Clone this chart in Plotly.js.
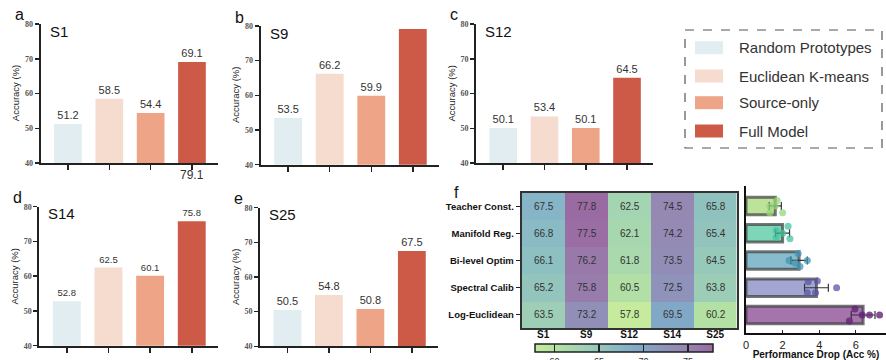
<!DOCTYPE html>
<html><head><meta charset="utf-8">
<script src="https://cdn.plot.ly/plotly-3.0.1.min.js"></script>
<style>html,body{margin:0;padding:0;background:#fff;}#chart{width:886px;height:360px;}</style>
</head><body><div id="chart"></div>
<script>
// ---------- data ----------
const methods = ['Random Prototypes','Euclidean K-means','Source-only','Full Model'];
const subjects = ['S1','S9','S12','S14','S25'];
const accS1  = [51.2, 58.5, 54.4, 69.1];
const accS9  = [53.5, 66.2, 59.9, 79.1];
const accS12 = [50.1, 53.4, 50.1, 64.5];
const accS14 = [52.8, 62.5, 60.1, 75.8];
const accS25 = [50.5, 54.8, 50.8, 67.5];
const yTicks = [40, 50, 60, 70, 80];

const components = ['Teacher Const.','Manifold Reg.','Bi-level Optim','Spectral Calib','Log-Euclidean'];
const ablation = [
  [67.5, 77.8, 62.5, 74.5, 65.8],
  [66.8, 77.5, 62.1, 74.2, 65.4],
  [66.1, 76.2, 61.8, 73.5, 64.5],
  [65.2, 75.8, 60.5, 72.5, 63.8],
  [63.5, 73.2, 57.8, 69.5, 60.2]
];
const cbTicks = [60, 65, 70, 75];

const dropMean = [1.6, 2.0, 2.9, 3.85, 6.4];
const dropErr  = [0.33, 0.38, 0.45, 0.65, 0.65];
const dropPoints = [
  [1.7, 1.3, 2.0, 1.3, 1.6],
  [2.3, 1.65, 2.0, 2.4, 1.65],
  [2.85, 2.35, 3.35, 2.95, 2.7],
  [3.4, 3.9, 4.95, 3.35, 3.8],
  [5.95, 6.35, 6.75, 7.3, 5.65]
];
const dropJitter = [
  [-0.2, 0.0, 0.25, 0.25, 0.0],
  [-0.25, -0.1, 0.0, 0.2, 0.15],
  [-0.25, 0.0, 0.0, 0.22, 0.1],
  [-0.22, -0.25, 0.0, 0.18, 0.18],
  [-0.22, 0.0, 0.0, 0.0, 0.22]
];
const dropTicks = [0, 2, 4, 6];

// ---------- styles ----------
const W = 886, H = 360;
const methodColors = ['#e2edf2', '#f6dccf', '#eea587', '#cd5a47'];
const barFill = ['#bde39a', '#7ed6b8', '#86bccb', '#a2a6d0', '#a574ad'];
const dotCol  = ['rgba(150,215,120,0.75)', 'rgba(70,195,160,0.75)', 'rgba(65,150,180,0.75)',
                 'rgba(90,85,165,0.75)', 'rgba(100,35,120,0.8)'];
const FONT = 'Liberation Sans, Arial, sans-serif';
const px = x => x / W;
const py = y => 1 - y / H;
const dX = (a, b) => [a / W, b / W];
const dY = (t, b) => [1 - b / H, 1 - t / H];

const panels = [
  {vals: accS1,  ax: 'x',  ay: 'y',  xd: [40.7, 218], yd: [24, 163],   letter: 'a', lab: subjects[0], fs: 11},
  {vals: accS9,  ax: 'x2', ay: 'y2', xd: [260.7, 439], yd: [26, 164.7], letter: 'b', lab: subjects[1], fs: 11},
  {vals: accS12, ax: 'x3', ay: 'y3', xd: [476, 653],  yd: [24, 163],   letter: 'c', lab: subjects[2], fs: 11},
  {vals: accS14, ax: 'x4', ay: 'y4', xd: [39.3, 218], yd: [206.7, 345.7], letter: 'd', lab: subjects[3], fs: 9.5},
  {vals: accS25, ax: 'x5', ay: 'y5', xd: [260, 438],  yd: [207.7, 346.3], letter: 'e', lab: subjects[4], fs: 11}
];

const data = [];
const layout = {
  width: W, height: H, margin: {l: 0, r: 0, t: 0, b: 0, autoexpand: false},
  paper_bgcolor: '#fff', plot_bgcolor: 'rgba(0,0,0,0)',
  showlegend: false, font: {family: FONT, color: '#222'},
  annotations: [], shapes: []
};

panels.forEach((p, i) => {
  const labels = p.vals.map(v => v.toFixed(1));
  if (i === 1) labels[3] = '';
  data.push({
    type: 'bar', x: [0, 1, 2, 3], y: p.vals, width: 0.67,
    marker: {color: methodColors, line: {width: 0}},
    text: labels, textposition: 'outside', constraintext: 'none', cliponaxis: false,
    textfont: {family: FONT, size: p.fs, color: '#333'},
    xaxis: p.ax, yaxis: p.ay, hoverinfo: 'y'
  });
  const sx = p.ax === 'x' ? 'xaxis' : 'xaxis' + p.ax.slice(1);
  const sy = p.ay === 'y' ? 'yaxis' : 'yaxis' + p.ay.slice(1);
  layout[sx] = {
    domain: dX(p.xd[0], p.xd[1]), range: [-0.66, 3.63], anchor: p.ay,
    tickvals: [0, 1, 2, 3], ticktext: ['', '', '', ''], ticks: 'outside', ticklen: 5, tickwidth: 1.5,
    tickcolor: '#222', showline: true, linecolor: '#222', linewidth: 2, showgrid: false, zeroline: false
  };
  layout[sy] = {
    domain: dY(p.yd[0], p.yd[1]), range: [40, 80], anchor: p.ax,
    tickvals: yTicks, ticks: 'outside', ticklen: 4, tickwidth: 1.5, tickcolor: '#222',
    showline: true, linecolor: '#222', linewidth: 2, showgrid: false, zeroline: false,
    tickfont: {family: 'Liberation Serif, serif', size: 8, color: '#555', weight: 'bold'}
  };
  layout.annotations.push({text: p.letter, xref: 'paper', yref: 'paper',
    x: px(p.xd[0] - 28), y: py(p.yd[0] - 9), xanchor: 'left', yanchor: 'middle', showarrow: false,
    font: {family: FONT, size: 16, color: '#111'}});
  layout.annotations.push({text: p.lab, xref: 'paper', yref: 'paper',
    x: px(p.xd[0] + 7), y: py(p.yd[0] + 7), xanchor: 'left', yanchor: 'middle', showarrow: false,
    font: {family: FONT, size: 15, color: '#111'}});
  layout.annotations.push({text: 'Accuracy (%)', xref: 'paper', yref: 'paper', textangle: -90,
    x: px(p.xd[0] - 25), y: py((p.yd[0] + p.yd[1]) / 2), xanchor: 'center', yanchor: 'middle', showarrow: false,
    font: {family: FONT, size: 9.5, color: '#222'}});
});

// stray label of S9 Full Model drawn below panel a
layout.annotations.push({text: accS9[3].toFixed(1), xref: 'x', yref: 'paper', x: 3, y: py(175),
  xanchor: 'center', yanchor: 'middle', showarrow: false, font: {family: FONT, size: 12, color: '#333'}});

// ---------- legend ----------
layout.shapes.push({type: 'rect', xref: 'paper', yref: 'paper', x0: px(685), x1: px(882), y0: py(30), y1: py(148),
  line: {color: '#555', width: 1.2, dash: 'dash'}, fillcolor: 'rgba(0,0,0,0)'});
const legRows = [47.7, 76, 102.7, 131];
methods.forEach((m, i) => {
  layout.shapes.push({type: 'rect', xref: 'paper', yref: 'paper', x0: px(695), x1: px(723),
    y0: py(legRows[i] + 6.5), y1: py(legRows[i] - 6.5), line: {width: 0}, fillcolor: methodColors[i]});
  layout.annotations.push({text: m, xref: 'paper', yref: 'paper', x: px(737), y: py(legRows[i]),
    xanchor: 'left', yanchor: 'middle', showarrow: false, font: {family: FONT, size: 15, color: '#333'}});
});

// ---------- heatmap ----------
data.push({
  type: 'heatmap', z: ablation, x: subjects, y: components, xaxis: 'x6', yaxis: 'y6',
  zmin: 57.8, zmax: 77.8,
  colorscale: [
    [0, '#c6eb9c'], [0.12, '#b3e1a3'], [0.235, '#a4d5b2'], [0.4, '#8fc2bf'],
    [0.485, '#86b5c7'], [0.585, '#82a8c8'], [0.735, '#8f92ba'], [0.835, '#9588b3'], [1, '#9a6aa2']
  ],
  texttemplate: '%{z:.1f}', textfont: {family: FONT, size: 10, color: '#333'},
  colorbar: {
    orientation: 'h', x: px(623.85), xanchor: 'center', y: py(344), yanchor: 'top',
    len: 177.7, lenmode: 'pixels', thickness: 8, thicknessmode: 'pixels',
    tickvals: cbTicks, ticks: 'inside', ticklen: 8, tickwidth: 1.2, tickcolor: '#222',
    outlinecolor: '#222', outlinewidth: 1.5, xpad: 0, ypad: 0,
    tickfont: {family: FONT, size: 9, color: '#333'}
  },
  hoverinfo: 'z'
});
layout.xaxis6 = {domain: dX(521.7, 736.7), anchor: 'y6', showline: true, mirror: true, linecolor: '#333', linewidth: 2,
  ticks: '', ticklabelstandoff: -4, showgrid: false, zeroline: false,
  tickfont: {family: FONT, size: 10, color: '#111', weight: 'bold'}};
layout.yaxis6 = {domain: dY(192.7, 328.3), anchor: 'x6', autorange: 'reversed', showline: true, mirror: true,
  linecolor: '#333', linewidth: 2, ticks: 'outside', ticklen: 4, tickwidth: 1.2, tickcolor: '#222',
  showgrid: false, zeroline: false, tickfont: {family: FONT, size: 9.5, color: '#111', weight: 'bold'}};
layout.annotations.push({text: 'f', xref: 'paper', yref: 'paper', x: px(452), y: py(192),
  xanchor: 'left', yanchor: 'middle', showarrow: false, font: {family: FONT, size: 16, color: '#111'}});

// ---------- performance drop bars ----------
const rows = [0, 1, 2, 3, 4];
data.push({
  type: 'bar', orientation: 'h', x: dropMean, y: rows, width: 0.64, xaxis: 'x7', yaxis: 'y7',
  marker: {color: barFill, line: {color: 'rgba(60,60,60,0.7)', width: 3}},
  error_x: {type: 'data', array: dropErr, color: '#333', thickness: 1.2, width: 4},
  hoverinfo: 'x'
});
rows.forEach(r => {
  data.push({
    type: 'scatter', mode: 'markers', x: dropPoints[r], y: dropJitter[r].map(j => r + j),
    xaxis: 'x7', yaxis: 'y7', cliponaxis: false,
    marker: {color: dotCol[r], size: 7, line: {width: 0}}, hoverinfo: 'x'
  });
});
layout.xaxis7 = {domain: dX(746, 886), anchor: 'y7', range: [0, 7.65], tickvals: dropTicks,
  ticks: 'inside', ticklen: 3, tickwidth: 1.2, tickcolor: '#222', showline: true, linecolor: '#111', linewidth: 2,
  showgrid: false, zeroline: false, tickfont: {family: FONT, size: 11, color: '#222'},
  title: {text: 'Performance Drop (Acc %)', standoff: 1, font: {family: FONT, size: 10, color: '#111', weight: 'bold'}}};
layout.yaxis7 = {domain: dY(186, 333.3), anchor: 'x7', range: [4.67, -0.73], showline: true, linecolor: '#111',
  linewidth: 2, showticklabels: false, ticks: '', showgrid: false, zeroline: false};

Plotly.newPlot('chart', data, layout, {displayModeBar: false, staticPlot: true});
</script>
</body></html>
